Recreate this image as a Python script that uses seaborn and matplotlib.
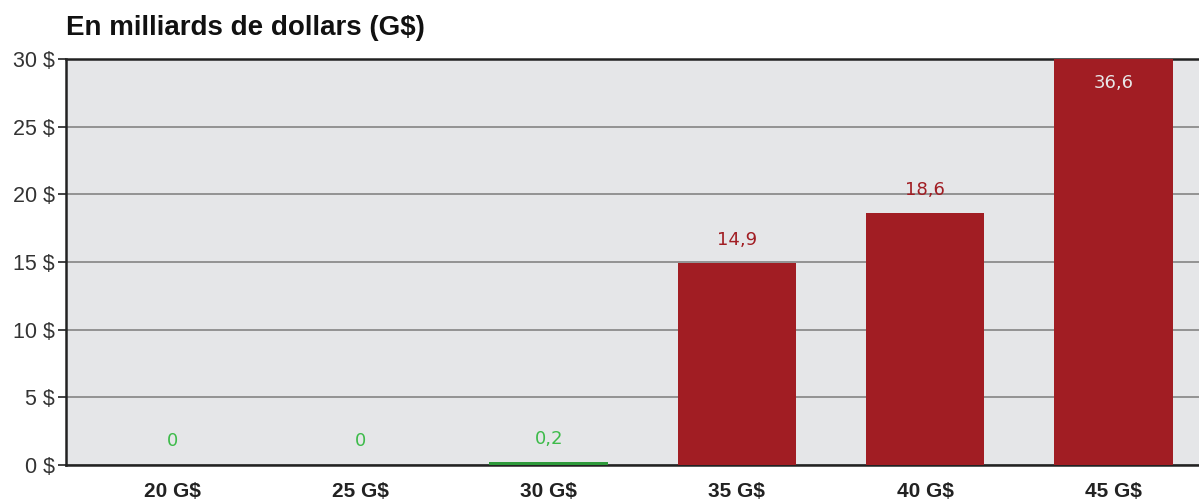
import seaborn as sns
import matplotlib.pyplot as plt
import pandas as pd

# data
categories = ['20 G$', '25 G$', '30 G$', '35 G$', '40 G$', '45 G$']
values = [0, 0, 0.2, 14.9, 18.6, 36.6]
bar_colors = ['#2E9A3A', '#2E9A3A', '#2E9A3A', '#A11D23', '#A11D23', '#A11D23']
label_colors = ['#3DBB4A', '#3DBB4A', '#3DBB4A', '#A11D23', '#A11D23', '#E8E8E8']
y_ticks = [0, 5, 10, 15, 20, 25, 30]

sns.set_theme(style='white')
plt.rcParams['font.family'] = ['Liberation Sans', 'DejaVu Sans']

df = pd.DataFrame({'cat': categories, 'val': values})

fig = plt.figure(figsize=(11.99, 5.01), dpi=100)
ax = fig.add_axes([0.055, 0.0719, 0.945, 0.8103])
ax.set_facecolor('#E5E6E8')

sns.barplot(data=df, x='cat', y='val', hue='cat', palette=bar_colors,
            width=0.63, saturation=1, legend=False, ax=ax, zorder=3,
            linewidth=0, edgecolor='none')

ax.set_ylim(0, 30)
ax.set_xlim(-0.565, 5.455)
ax.set_yticks(y_ticks)
ax.set_yticklabels([f'{t} $' for t in y_ticks], fontsize=15.5, color='#333333')
ax.yaxis.grid(True, color='#8C8C8C', linewidth=1.3, zorder=0)
ax.set_axisbelow(True)
ax.tick_params(axis='y', which='major', left=True, length=6, width=1.2,
               color='#222222', pad=2)
ax.tick_params(axis='x', length=0, pad=12)
for lab in ax.get_xticklabels():
    lab.set_fontweight('bold')
    lab.set_fontsize(15)
    lab.set_family(['Liberation Sans Narrow', 'Liberation Sans'])
    lab.set_color('#222222')
ax.set_xlabel('')
ax.set_ylabel('')

for side in ['left', 'bottom', 'top']:
    ax.spines[side].set_color('#222222')
    ax.spines[side].set_linewidth(1.8)
ax.spines['right'].set_visible(False)

# value labels
for i, v in enumerate(values):
    txt = f'{v:g}'.replace('.', ',')
    if v > 30:
        ax.text(i, 28.2, txt, ha='center', va='center', color=label_colors[i],
                fontsize=13, family='DejaVu Sans', zorder=5)
    else:
        ax.annotate(txt, (i, v), xytext=(0, 17), textcoords='offset points',
                    ha='center', va='center', color=label_colors[i],
                    fontsize=13, family='DejaVu Sans', zorder=5)

fig.text(0.055, 0.945, 'En milliards de dollars (G$)', fontsize=20,
         fontweight='bold', color='#111111', va='center',
         family=['Liberation Sans Narrow', 'Liberation Sans'])

fig.savefig('out.png', dpi=100)
